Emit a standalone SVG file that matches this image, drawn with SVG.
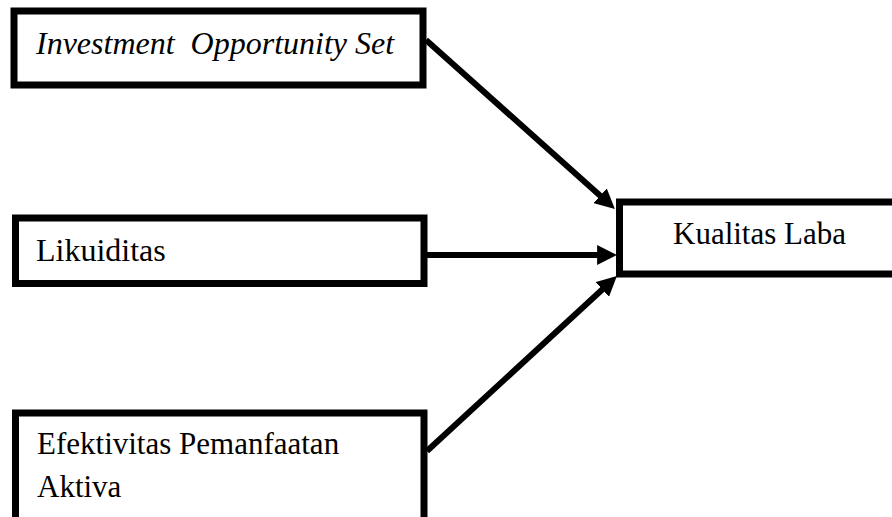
<svg xmlns="http://www.w3.org/2000/svg" width="892" height="517" viewBox="0 0 892 517">
  <style>
    .box { fill: #ffffff; stroke: #000000; stroke-width: 7; }
    .lbl { font-family: "Liberation Serif", "Times New Roman", serif; font-size: 32px; fill: #000000; }
    .it { font-style: italic; }
    .conn { stroke: #000000; stroke-width: 6; fill: none; marker-end: url(#arrow); }
  </style>
  <defs>
    <marker id="arrow" viewBox="0 0 10 10" refX="5" refY="5" markerWidth="3.3" markerHeight="3.3" orient="auto" markerUnits="strokeWidth">
      <path d="M0,0 L10,5 L0,10 z" fill="#000000"/>
    </marker>
  </defs>
  <rect width="892" height="517" fill="#ffffff"/>
  <g id="connectors">
    <line class="conn" x1="426" y1="40" x2="607.5" y2="202.3"/>
    <line class="conn" x1="427" y1="255" x2="607" y2="255"/>
    <line class="conn" x1="427" y1="451" x2="609.6" y2="282.8"/>
  </g>
  <g id="node-ios">
    <rect class="box" x="14" y="11" width="409" height="74"/>
    <text class="lbl it" x="36" y="54" xml:space="preserve">Investment  Opportunity Set</text>
  </g>
  <g id="node-likuiditas">
    <rect class="box" x="15.5" y="218" width="408.5" height="65.5"/>
    <text class="lbl" x="36" y="261">Likuiditas</text>
  </g>
  <g id="node-efektivitas">
    <rect class="box" x="15.5" y="413" width="408.5" height="130"/>
    <text class="lbl" x="37" y="454" style="font-size:31px">Efektivitas Pemanfaatan</text>
    <text class="lbl" x="37" y="497" style="font-size:31px">Aktiva</text>
  </g>
  <g id="node-kualitas">
    <rect class="box" x="619.5" y="202" width="300" height="72"/>
    <text class="lbl" x="673" y="244" style="font-size:31px">Kualitas Laba</text>
  </g>
</svg>
